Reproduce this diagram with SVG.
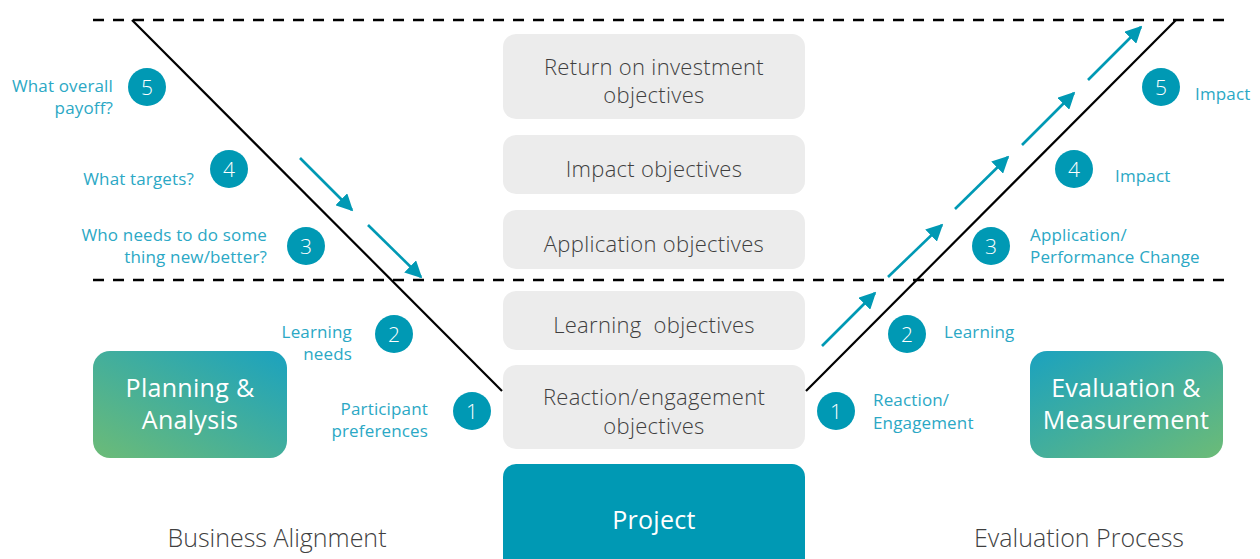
<svg xmlns="http://www.w3.org/2000/svg" width="1260" height="559" viewBox="0 0 1260 559">
  <style>
    .obj { fill: #ececec; }
    .obj-text { font-family: "Open Sans", "Liberation Sans", sans-serif; font-weight: 300; font-size: 22px; letter-spacing: 0.3px; fill: #3f3f3f; text-anchor: middle; }
    .badge { fill: #0099b4; }
    .badge-num { font-family: "Open Sans", "Liberation Sans", sans-serif; font-weight: 300; font-size: 21px; fill: #ffffff; text-anchor: middle; }
    .lbl { font-family: "Open Sans", "Liberation Sans", sans-serif; font-size: 17px; letter-spacing: 0.15px; fill: #2ba8c5; }
    .lbl-r { text-anchor: end; }
    .phase-text { font-family: "Open Sans", "Liberation Sans", sans-serif; font-size: 25px; letter-spacing: 0.3px; fill: #ffffff; text-anchor: middle; }
    .caption { font-family: "Open Sans", "Liberation Sans", sans-serif; font-weight: 300; font-size: 25px; fill: #3f3f3f; text-anchor: middle; }
    .dash { stroke: #000000; stroke-width: 2.5; stroke-dasharray: 11 9; fill: none; }
    .vline { stroke: #000000; stroke-width: 2.2; fill: none; }
    .flow { stroke: #0099b4; stroke-width: 2.6; fill: none; marker-end: url(#head); }
  </style>
  <defs>
    <marker id="head" viewBox="0 0 10 10" refX="9" refY="5" markerWidth="6.5" markerHeight="6.5" markerUnits="strokeWidth" orient="auto">
      <path d="M0,0 L10,5 L0,10 Z" fill="#0099b4"/>
    </marker>
    <linearGradient id="gradPlan" x1="0" y1="1" x2="1" y2="0">
      <stop offset="0" stop-color="#6cbb77"/>
      <stop offset="1" stop-color="#1ba2bf"/>
    </linearGradient>
    <linearGradient id="gradEval" x1="0" y1="0" x2="1" y2="1">
      <stop offset="0" stop-color="#1ba2bf"/>
      <stop offset="1" stop-color="#6cbb77"/>
    </linearGradient>
  </defs>

  <rect width="1260" height="559" fill="#ffffff"/>

  <!-- connectors: level boundaries, V outline and flow arrows -->
  <g id="connectors">
    <line class="dash" x1="93" y1="20" x2="1228" y2="20"/>
    <line class="dash" x1="93" y1="280" x2="1228" y2="280"/>
    <line class="vline" x1="132" y1="20" x2="502" y2="391"/>
    <line class="vline" x1="806" y1="391" x2="1176" y2="20"/>
    <line class="flow" x1="300" y1="158" x2="352" y2="210"/>
    <line class="flow" x1="368" y1="225" x2="421" y2="277"/>
    <line class="flow" x1="822" y1="346" x2="875" y2="293"/>
    <line class="flow" x1="888" y1="277" x2="942" y2="225"/>
    <line class="flow" x1="955" y1="209" x2="1008" y2="157"/>
    <line class="flow" x1="1022" y1="145" x2="1074" y2="93"/>
    <line class="flow" x1="1088" y1="80" x2="1141" y2="27"/>
  </g>

  <!-- objective stack -->
  <g id="roi-objectives">
    <rect class="obj" x="503" y="34" width="302" height="85" rx="13"/>
    <text class="obj-text" x="654" y="75">Return on investment</text>
    <text class="obj-text" x="654" y="103">objectives</text>
  </g>
  <g id="impact-objectives">
    <rect class="obj" x="503" y="135" width="302" height="59" rx="13"/>
    <text class="obj-text" x="654" y="177">Impact objectives</text>
  </g>
  <g id="application-objectives">
    <rect class="obj" x="503" y="210" width="302" height="59" rx="13"/>
    <text class="obj-text" x="654" y="252">Application objectives</text>
  </g>
  <g id="learning-objectives">
    <rect class="obj" x="503" y="291" width="302" height="59" rx="13"/>
    <text class="obj-text" x="654" y="333" xml:space="preserve">Learning  objectives</text>
  </g>
  <g id="reaction-objectives">
    <rect class="obj" x="503" y="365" width="302" height="84" rx="13"/>
    <text class="obj-text" x="654" y="405">Reaction/engagement</text>
    <text class="obj-text" x="654" y="434">objectives</text>
  </g>
  <g id="project">
    <rect x="503" y="464" width="302" height="110" rx="13" fill="#0099b4"/>
    <text class="phase-text" x="654" y="529">Project</text>
  </g>

  <!-- left side: business alignment questions -->
  <g id="left-5">
    <circle class="badge" cx="147" cy="87" r="19"/>
    <text class="badge-num" x="147" y="94.5">5</text>
    <text class="lbl lbl-r" x="113" y="91.5">What overall</text>
    <text class="lbl lbl-r" x="113" y="113.5">payoff?</text>
  </g>
  <g id="left-4">
    <circle class="badge" cx="229" cy="169" r="19"/>
    <text class="badge-num" x="229" y="176.5">4</text>
    <text class="lbl lbl-r" x="194" y="185">What targets?</text>
  </g>
  <g id="left-3">
    <circle class="badge" cx="306" cy="246" r="19"/>
    <text class="badge-num" x="306" y="253.5">3</text>
    <text class="lbl lbl-r" x="267" y="240.5">Who needs to do some</text>
    <text class="lbl lbl-r" x="267" y="262.5">thing new/better?</text>
  </g>
  <g id="left-2">
    <circle class="badge" cx="394" cy="334" r="19"/>
    <text class="badge-num" x="394" y="341.5">2</text>
    <text class="lbl lbl-r" x="352" y="337.5">Learning</text>
    <text class="lbl lbl-r" x="352" y="360">needs</text>
  </g>
  <g id="left-1">
    <circle class="badge" cx="472" cy="411" r="19"/>
    <text class="badge-num" x="472" y="418.5">1</text>
    <text class="lbl lbl-r" x="428" y="414.5">Participant</text>
    <text class="lbl lbl-r" x="428" y="437">preferences</text>
  </g>

  <!-- right side: evaluation levels -->
  <g id="right-5">
    <circle class="badge" cx="1161" cy="87" r="19"/>
    <text class="badge-num" x="1161" y="94.5">5</text>
    <text class="lbl" x="1195" y="100">Impact</text>
  </g>
  <g id="right-4">
    <circle class="badge" cx="1074" cy="169" r="19"/>
    <text class="badge-num" x="1074" y="176.5">4</text>
    <text class="lbl" x="1115" y="182">Impact</text>
  </g>
  <g id="right-3">
    <circle class="badge" cx="991" cy="246" r="19"/>
    <text class="badge-num" x="991" y="253.5">3</text>
    <text class="lbl" x="1030" y="240.5">Application/</text>
    <text class="lbl" x="1030" y="262.5">Performance Change</text>
  </g>
  <g id="right-2">
    <circle class="badge" cx="907" cy="334" r="19"/>
    <text class="badge-num" x="907" y="341.5">2</text>
    <text class="lbl" x="944" y="338">Learning</text>
  </g>
  <g id="right-1">
    <circle class="badge" cx="836" cy="411" r="19"/>
    <text class="badge-num" x="836" y="418.5">1</text>
    <text class="lbl" x="873" y="406">Reaction/</text>
    <text class="lbl" x="873" y="429">Engagement</text>
  </g>

  <!-- phase boxes -->
  <g id="planning-analysis">
    <rect x="93" y="351" width="194" height="107" rx="17" fill="url(#gradPlan)"/>
    <text class="phase-text" x="190" y="397">Planning &amp;</text>
    <text class="phase-text" x="190" y="429">Analysis</text>
  </g>
  <g id="evaluation-measurement">
    <rect x="1030" y="351" width="193" height="107" rx="17" fill="url(#gradEval)"/>
    <text class="phase-text" x="1126" y="397">Evaluation &amp;</text>
    <text class="phase-text" x="1126" y="429">Measurement</text>
  </g>

  <!-- captions -->
  <g id="business-alignment">
    <text class="caption" x="277" y="547">Business Alignment</text>
  </g>
  <g id="evaluation-process">
    <text class="caption" x="1079" y="547">Evaluation Process</text>
  </g>
</svg>
